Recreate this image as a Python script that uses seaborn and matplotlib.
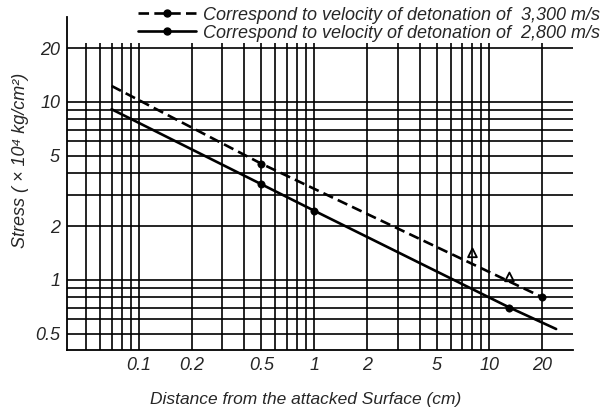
import matplotlib
matplotlib.use("Agg")
import matplotlib.pyplot as plt
import seaborn as sns
import pandas as pd
from matplotlib.lines import Line2D

# ---- data ----
series_names = ["Correspond to velocity of detonation of  3,300 m/s",
                "Correspond to velocity of detonation of  2,800 m/s"]
dist_3300 = [0.07, 0.5, 20]
stress_3300 = [12.3, 4.5, 0.80]
dot_x_3300 = [0.5, 20]
dot_y_3300 = [4.5, 0.80]

dist_2800 = [0.07, 0.5, 1, 13, 24]
stress_2800 = [9.1, 3.45, 2.45, 0.70, 0.53]
dot_x_2800 = [0.5, 1, 13]
dot_y_2800 = [3.45, 2.45, 0.70]

tri_x = [8, 13]
tri_y = [1.42, 1.04]

xtick_vals = [0.1, 0.2, 0.5, 1, 2, 5, 10, 20]
xtick_labels = ["0.1", "0.2", "0.5", "1", "2", "5", "10", "20"]
ytick_vals = [0.5, 1, 2, 5, 10, 20]
ytick_labels = ["0.5", "1", "2", "5", "10", "20"]

vgrid = [0.05, 0.06, 0.07, 0.08, 0.09, 0.1, 0.2, 0.3, 0.4, 0.5, 0.6, 0.7, 0.8, 0.9,
         1, 2, 3, 4, 5, 6, 7, 8, 9, 10, 20]
hgrid = [0.5, 0.6, 0.7, 0.8, 0.9, 1, 2, 3, 4, 5, 6, 7, 8, 9, 10, 20]

# ---- style ----
sns.set_style("white")
plt.rcParams["font.family"] = ["Liberation Sans Narrow", "Liberation Sans", "DejaVu Sans"]
plt.rcParams["font.style"] = "italic"
wide_font = ["Liberation Sans", "DejaVu Sans"]

fig = plt.figure(figsize=(6.11, 4.12), dpi=100)
ax = fig.add_axes([0.1097, 0.1505, 0.8283, 0.8082])
ax.set_xscale("log")
ax.set_yscale("log")
ax.set_xlim(0.039, 30)
ax.set_ylim(0.404, 30)

# grid
for yv in hgrid:
    ax.axhline(yv, color="black", lw=1.2, zorder=1)
ax.vlines(vgrid, 0.404, 21.5, color="black", lw=1.2, zorder=1)

df = pd.concat([
    pd.DataFrame({"distance": dist_3300, "stress": stress_3300, "series": series_names[0]}),
    pd.DataFrame({"distance": dist_2800, "stress": stress_2800, "series": series_names[1]}),
])
sns.lineplot(data=df, x="distance", y="stress", style="series",
             dashes={series_names[0]: (4, 2), series_names[1]: ""},
             color="black", lw=1.9, sort=False, estimator=None, legend=False,
             ax=ax, zorder=3)
sns.scatterplot(x=dot_x_3300 + dot_x_2800, y=dot_y_3300 + dot_y_2800,
                color="black", s=28, edgecolor="black", ax=ax, zorder=4, legend=False)
sns.scatterplot(x=tri_x, y=tri_y, marker="^", s=40, facecolor="none",
                edgecolor="black", linewidth=1.3, ax=ax, zorder=4, legend=False)

ax.set_xticks(xtick_vals)
ax.set_xticklabels(xtick_labels)
ax.set_yticks(ytick_vals)
ax.set_yticklabels(ytick_labels)
ax.minorticks_off()
ax.tick_params(length=0, labelsize=13, pad=5)
ax.set_xlabel("")
ax.set_ylabel("")

for s in ["top", "right"]:
    ax.spines[s].set_visible(False)
for s in ["left", "bottom"]:
    ax.spines[s].set_color("black")
    ax.spines[s].set_linewidth(1.3)

fig.text(0.033, 0.61, "Stress ( × 10⁴ kg/cm²)", rotation=90, ha="center", va="center",
         fontsize=13, family=wide_font, style="italic")
fig.text(0.50, 0.03, "Distance from the attacked Surface (cm)", ha="center", va="center",
         fontsize=12.5, family=wide_font, style="italic")

handles = [Line2D([], [], color="black", lw=1.9, ls=(0, (4, 2)), marker="o", markersize=5),
           Line2D([], [], color="black", lw=1.9, ls="-", marker="o", markersize=5)]
fig.legend(handles, series_names, loc="upper right", bbox_to_anchor=(1.0, 1.01),
           frameon=False, fontsize=13, handlelength=3.2, handletextpad=0.4,
           labelspacing=0.05, borderaxespad=0.2)

fig.savefig("out.png", dpi=100)
